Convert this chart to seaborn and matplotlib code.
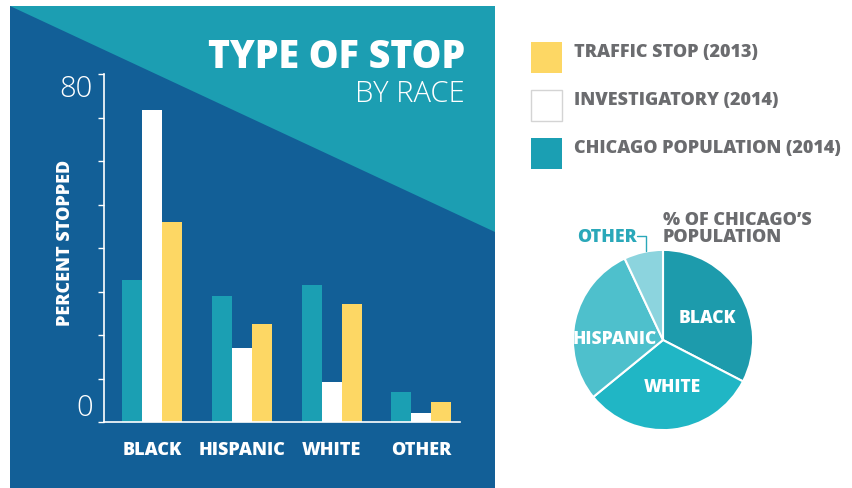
import numpy as np
import pandas as pd
import matplotlib
matplotlib.use("Agg")
import matplotlib.pyplot as plt
from matplotlib.patches import Polygon, Rectangle
from matplotlib.lines import Line2D
import seaborn as sns

# ── data ────────────────────────────────────────────────
races = ["BLACK", "HISPANIC", "WHITE", "OTHER"]
chicago_pop = [32.6, 28.9, 31.5, 7.0]        # % of population (2014)
investigatory = [71.8, 16.9, 9.1, 2.0]       # investigatory stops (2014)
traffic_stop = [45.9, 22.6, 27.2, 4.7]       # traffic stops (2013)

series_names = ["CHICAGO POPULATION (2014)", "INVESTIGATORY (2014)", "TRAFFIC STOP (2013)"]
legend_order = ["TRAFFIC STOP (2013)", "INVESTIGATORY (2014)", "CHICAGO POPULATION (2014)"]

pie_labels = ["BLACK", "WHITE", "HISPANIC", "OTHER"]
pie_values = [32.6, 31.5, 28.9, 7.0]

# ── colours ─────────────────────────────────────────────
DARK_BLUE = "#125f97"
LIGHT_TEAL = "#1c9eb2"
BAR_TEAL = "#1b9fb3"
YELLOW = "#fdd764"
GREY = "#6b6c6f"
colors = {series_names[0]: BAR_TEAL, series_names[1]: "#ffffff", series_names[2]: YELLOW}
pie_colors = ["#1d9bac", "#20b6c5", "#4ec0cc", "#8cd4de"]

sns.set_theme(style="white")
plt.rcParams["font.family"] = ["Open Sans", "DejaVu Sans"]

W, H = 853, 489
fig = plt.figure(figsize=(W / 100, H / 100), dpi=100)
fig.patch.set_facecolor("white")


def fx(x):
    return x / W


def fy(y):
    return 1 - y / H


# background panel + diagonal (drawn under the axes)
fig.patches.append(Rectangle((fx(10), fy(489)), fx(495) - fx(10), fy(7) - fy(489),
                             transform=fig.transFigure, facecolor=DARK_BLUE,
                             edgecolor="none", zorder=-2))
fig.patches.append(Polygon([(fx(10), fy(7)), (fx(495), fy(7)), (fx(495), fy(233))],
                           closed=True, transform=fig.transFigure,
                           facecolor=LIGHT_TEAL, edgecolor="none", zorder=-1))

# ── bar chart ───────────────────────────────────────────
df = pd.DataFrame({
    "race": races * 3,
    "series": [series_names[0]] * 4 + [series_names[1]] * 4 + [series_names[2]] * 4,
    "value": chicago_pop + investigatory + traffic_stop,
})

ax = fig.add_axes([fx(104), fy(423), fx(460) - fx(104), fy(75) - fy(423)])
ax.patch.set_alpha(0)
sns.barplot(data=df, x="race", y="value", hue="series", hue_order=series_names,
            palette=colors, width=0.67, saturation=1, linewidth=0,
            legend=False, ax=ax)
ax.set_xlim(-0.535, 3.43)
ax.set_ylim(0, 80)
ax.set_xlabel("")
ax.set_ylabel("")
for s in ["top", "right"]:
    ax.spines[s].set_visible(False)
for s in ["left", "bottom"]:
    ax.spines[s].set_color("white")
    ax.spines[s].set_linewidth(1.2)
ax.set_yticks(np.arange(0, 81, 10))
ax.set_yticklabels(["0"] + [""] * 7 + ["80"])
ax.tick_params(axis="y", left=True, direction="out", length=4, width=1, color="white",
               labelcolor="white", labelsize=21, pad=4)
ax.tick_params(axis="x", bottom=False, length=0, labelcolor="white", labelsize=13, pad=14)
for lab in ax.get_yticklabels():
    lab.set_fontweight("light")
ylabs = ax.get_yticklabels()
ylabs[0].set_va("bottom")
ylabs[-1].set_va("top")
for lab in ax.get_xticklabels():
    lab.set_fontweight("heavy")
ax.grid(False)

fig.text(fx(66), fy(243), "PERCENT STOPPED", rotation=90, color="white",
         fontsize=13, fontweight="heavy", ha="center", va="center")

fig.text(fx(465), fy(58), "TYPE OF STOP", color="white", fontsize=27,
         fontweight="heavy", ha="right", va="center")
fig.text(fx(465), fy(94), "BY RACE", color="white", fontsize=21,
         fontweight="light", ha="right", va="center")

# ── legend ──────────────────────────────────────────────
leg_y = [58, 106, 154]
for name, yc in zip(legend_order, leg_y):
    fig.patches.append(Rectangle((fx(531), fy(yc + 15.5)), fx(31), fy(0) - fy(31),
                                 transform=fig.transFigure, facecolor=colors[name],
                                 edgecolor="#d4d4d4" if name == series_names[1] else "none",
                                 linewidth=1, zorder=2))
    fig.text(fx(574), fy(yc - 6), name, color=GREY, fontsize=13,
             fontweight="heavy", ha="left", va="center")

# ── pie ─────────────────────────────────────────────────
pax = fig.add_axes([fx(572), fy(432), fx(182), fy(0) - fy(182)])
wedges, texts = pax.pie(pie_values, colors=pie_colors, startangle=90,
                        counterclock=False,
                        wedgeprops=dict(edgecolor="white", linewidth=1.5))
pax.set_xlim(-1.01, 1.01)
pax.set_ylim(-1.01, 1.01)
pax.set_aspect("equal")
pax.patch.set_alpha(0)
label_pos = {"BLACK": (0.49, 0.25), "WHITE": (0.1, -0.52), "HISPANIC": (-0.54, 0.02)}
for lab, (lx, ly) in label_pos.items():
    pax.text(lx, ly, lab, color="white", fontsize=12.5, fontweight="heavy",
             ha="center", va="center")

fig.text(fx(663), fy(229), "% OF CHICAGO\u2019S\nPOPULATION", color=GREY,
         fontsize=13, fontweight="heavy", ha="left", va="center", linespacing=1.05)
fig.text(fx(577), fy(238), "OTHER", color="#2aa8b9", fontsize=12.8,
         fontweight="heavy", ha="left", va="center")
fig.lines.append(Line2D([fx(637), fx(646), fx(646)], [fy(237), fy(237), fy(252)],
                        transform=fig.transFigure, color="#2aa8b9", linewidth=1))

fig.savefig("out.png", dpi=100, facecolor="white")
